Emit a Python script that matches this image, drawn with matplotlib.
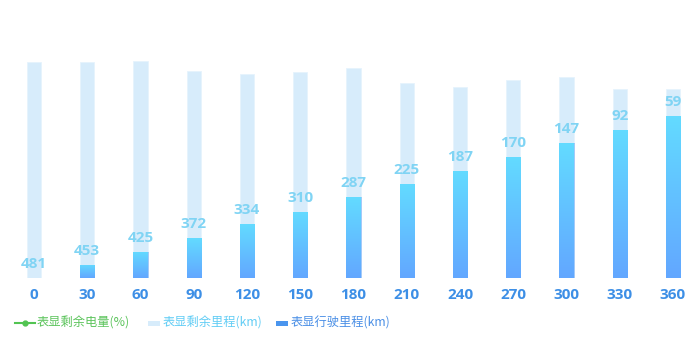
import numpy as np
import matplotlib.pyplot as plt
from matplotlib.lines import Line2D
from matplotlib.patches import Rectangle
from matplotlib.colors import LinearSegmentedColormap

plt.rcParams['font.family'] = ['Noto Sans CJK SC', 'DejaVu Sans']

# x categories (time / minutes)
categories = ['0', '30', '60', '90', '120', '150', '180', '210', '240', '270', '300', '330', '360']
# 表显剩余里程 (km), shown as labels
remaining_km = [481, 453, 425, 372, 334, 310, 287, 225, 187, 170, 147, 92, 59]
# 表显行驶里程 (km)
driven_km = [0, 29, 58, 89, 120, 148, 180, 209, 238, 270, 300, 330, 361]

series_names = ['表显剩余电量(%)', '表显剩余里程(km)', '表显行驶里程(km)']

LIGHT = '#d7ecfb'
LABEL = '#80d4f4'
TICK = '#3d8fe6'
grad = LinearSegmentedColormap.from_list('g', ['#63a7ff', '#62dbff'])

W, H = 700, 352
fig = plt.figure(figsize=(W / 100, H / 100), dpi=100)
ax = fig.add_axes([7.4 / W, 74 / H, 692.2 / W, 224.5 / H])

x = np.arange(len(categories))
w = 0.265

# remaining range stacked on top of driven range
ax.bar(x, remaining_km, w, bottom=driven_km, color=LIGHT, edgecolor='#e6f3fd', linewidth=0.6, zorder=1)
dark = ax.bar(x, driven_km, w, color='none', zorder=2)

g = np.linspace(0, 1, 256).reshape(-1, 1)
for rect in dark:
    h = rect.get_height()
    if h <= 0:
        continue
    x0 = rect.get_x()
    im = ax.imshow(g, cmap=grad, origin='lower', aspect='auto',
                   extent=(x0, x0 + rect.get_width(), 0, h), zorder=2)
    im.set_clip_path(rect)
    rect.set_edgecolor('#5aa0f5')
    rect.set_linewidth(0.4)

for xi, d, r in zip(x, driven_km, remaining_km):
    ax.annotate(str(r), (xi, d), xytext=(0, 5), textcoords='offset points',
                ha='center', va='bottom', color=LABEL, fontsize=11,
                fontweight='bold', family=['Open Sans', 'DejaVu Sans'], zorder=3)

ax.set_xlim(-0.5, len(categories) - 0.5)
ax.set_ylim(0, 500)
ax.set_xticks(x)
ax.set_xticklabels(categories, color=TICK, fontsize=11, fontweight='bold',
                   family=['Open Sans', 'DejaVu Sans'])
ax.tick_params(axis='x', length=0, pad=7)
ax.set_yticks([])
for s in ax.spines.values():
    s.set_visible(False)

# legend drawn by hand (pixel positions from the reference)
ly = 1 - 323 / H
fig.add_artist(Line2D([15 / W, 35 / W], [ly, ly], color='#52c452', linewidth=1.5,
                      transform=fig.transFigure))
fig.add_artist(Line2D([25 / W], [ly], color='#52c452', marker='o', markersize=3.5,
                      transform=fig.transFigure))
fig.add_artist(Rectangle((148 / W, ly - 2.5 / H), 12 / W, 5 / H, facecolor=LIGHT,
                         edgecolor='none', transform=fig.transFigure))
fig.add_artist(Rectangle((276 / W, ly - 2.5 / H), 12 / W, 5 / H, facecolor='#4a95ee',
                         edgecolor='none', transform=fig.transFigure))
for tx, name, c in zip([37, 163, 291], series_names, ['#5cc45c', '#62cdf5', '#4a8fe6']):
    fig.text(tx / W, ly, name, color=c, fontsize=8.8, va='center', ha='left')

fig.savefig('out.png', dpi=100)
